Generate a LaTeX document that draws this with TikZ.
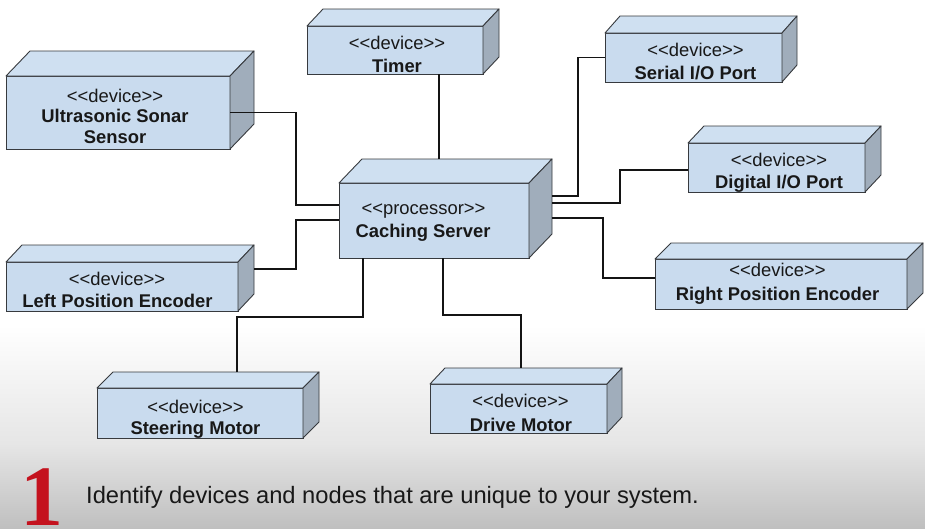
\documentclass[tikz,border=0pt]{standalone}
\usepackage{fontspec}
\setmainfont[Ligatures=TeXOff]{Liberation Sans}
\newfontfamily\serifone{Liberation Serif}
\usetikzlibrary{calc}
\definecolor{facec}{RGB}{201,219,238}
\definecolor{topc}{RGB}{207,224,241}
\definecolor{sidec}{RGB}{160,173,187}
\definecolor{edgec}{RGB}{55,58,62}
\definecolor{txtc}{RGB}{24,24,24}
\definecolor{numred}{RGB}{196,18,30}
\tikzset{
  face/.style={draw=edgec, fill=facec, line width=0.9pt, inner sep=0pt, outer sep=0pt, rectangle},
  edge/.style={draw=edgec, line width=0.9pt, line join=round},
  wire/.style={draw=black!92, line width=1.9pt},
  stlab/.style={font=\fontsize{18.4}{21}\selectfont, text=txtc, anchor=base, inner sep=0pt},
  nmlab/.style={font=\fontsize{18.4}{21}\selectfont\bfseries, text=txtc, anchor=base, inner sep=0pt}
}
\newcommand\devbox[7]{%
  \pgfmathsetmacro\dbW{#4-#2}\pgfmathsetmacro\dbH{#5-#3}%
  \pgfmathsetmacro\dbX{(#2+#4)/2}\pgfmathsetmacro\dbY{(#3+#5)/2}%
  \node[face, minimum width=\dbW pt, minimum height=\dbH pt] (#1) at (\dbX,\dbY) {};
  \draw[edge, fill=topc] (#1.north west) -- ++(#6,-#7) -- ($(#1.north east)+(#6,-#7)$) -- (#1.north east) -- cycle;
  \draw[edge, fill=sidec] (#1.north east) -- ++(#6,-#7) -- ($(#1.south east)+(#6,-#7)$) -- (#1.south east) -- cycle;
}
\begin{document}
\begin{tikzpicture}[x=1pt, y=-1pt]
\useasboundingbox (0,0) rectangle (925,528);
\fill[white] (0,0) rectangle (925,528);
\shade[top color=white, bottom color=black!10] (0,325) rectangle (925,445);
\shade[top color=black!10, bottom color=black!25] (0,444.5) rectangle (925,528);

% boxes
\devbox{sonar}{6}{76}{230}{149}{24}{25}
\devbox{timer}{307}{26}{483}{74}{16}{17}
\devbox{serial}{605}{33}{782}{82}{15}{17}
\devbox{digital}{688}{143}{865}{192}{16}{17}
\devbox{srv}{339}{183}{529}{258}{23}{24}
\devbox{lenc}{6}{262}{238}{311}{16}{17}
\devbox{renc}{655}{259}{907}{309}{16}{16}
\devbox{steer}{97}{388}{303}{438}{16}{16}
\devbox{drive}{430}{384}{607}{433}{15}{16}

% connectors
\draw[wire] (sonar.east) -| ($(srv.north west)+(-43,22)$) -- ($(srv.north west)+(0,22)$);
\draw[wire] ($(timer.south west)+(132,0)$) -- ($(srv.north west)+(100,-24)$);
\draw[wire] (serial.west) -- ++(-27,0) |- ($(srv.north east)+(23,13)$);
\draw[wire] ($(digital.west)+(0,2.5)$) -- ++(-68,0) |- ($(srv.north east)+(23,20)$);
\draw[wire] ($(srv.north east)+(23,35)$) -- ++(51,0) |- ($(renc.north west)+(0,19)$);
\draw[wire] ($(lenc.north east)+(16,7)$) -| ($(srv.north west)+(-43,37)$) -- ($(srv.north west)+(0,37)$);
\draw[wire] ($(steer.north west)+(140,-16)$) |- ($(srv.south west)+(24,59)$) -- ($(srv.south west)+(24,0)$);
\draw[wire] ($(srv.south west)+(104,0)$) |- ($(drive.north west)+(91,-69)$) -- ($(drive.north west)+(91,-16)$);

% labels
\node[stlab] (sonarS) at (115,102) {<<device>>};
\node[nmlab] (sonarN1) at (115,122) {Ultrasonic Sonar};
\node[nmlab] (sonarN2) at (115,143) {Sensor};
\node[stlab] (timerS) at (397,49) {<<device>>};
\node[nmlab] (timerN) at (397,72) {Timer};
\node[stlab] (serialS) at (695.5,56) {<<device>>};
\node[nmlab] (serialN) at (695.5,79) {Serial I/O Port};
\node[stlab] (digitalS) at (779,166.5) {<<device>>};
\node[nmlab] (digitalN) at (779,188) {Digital I/O Port};
\node[stlab] (srvS) at (423.5,214) {<<processor>>};
\node[nmlab] (srvN) at (423,237) {Caching Server};
\node[stlab] (lencS) at (117,285) {<<device>>};
\node[nmlab] (lencN) at (117.5,307) {Left Position Encoder};
\node[stlab] (rencS) at (777.5,276) {<<device>>};
\node[nmlab] (rencN) at (777.5,300) {Right Position Encoder};
\node[stlab] (steerS) at (195.5,413) {<<device>>};
\node[nmlab] (steerN) at (195.5,434) {Steering Motor};
\node[stlab] (driveS) at (520.5,407) {<<device>>};
\node[nmlab] (driveN) at (521,431) {Drive Motor};

% caption
\node[anchor=base west, inner sep=0pt, text=numred, font=\serifone\bfseries\fontsize{86}{86}\selectfont] (num) at (20,525) {1};
\node[anchor=base west, inner sep=0pt, text=txtc, font=\fontsize{23.7}{27}\selectfont] (cap) at (86,503) {Identify devices and nodes that are unique to your system.};
\end{tikzpicture}
\end{document}
